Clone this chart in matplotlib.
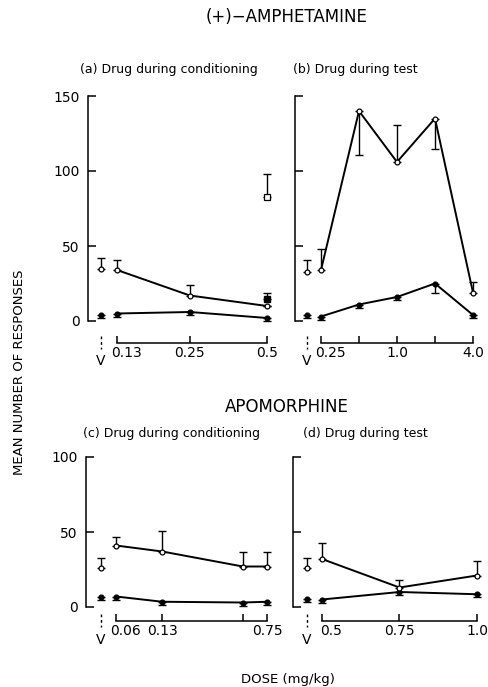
import numpy as np
import matplotlib
matplotlib.use('Agg')
import matplotlib.pyplot as plt
from matplotlib.transforms import blended_transform_factory, ScaledTranslation

# (a) amphetamine, drug during conditioning
a_dose = [0.13, 0.25, 0.5]
a_open = [34, 17, 10]
a_open_err = [7, 7, 0]
a_fill = [5, 6, 2]
a_fill_err = [2, 2, 2]
a_veh_open, a_veh_open_err = 35, 7
a_veh_fill, a_veh_fill_err = 4, 2
a_sq_open, a_sq_open_err = 83, 15
a_sq_fill, a_sq_fill_err = 15, 4
a_ticks = [0.13, 0.25, 0.5]
a_ticklabels = ['0.13', '0.25', '0.5']

# (b) amphetamine, drug during test
b_dose = [0.25, 0.5, 1.0, 2.0, 4.0]
b_open = [34, 140, 106, 135, 19]
b_open_lo = [0, 29, 0, 20, 0]
b_open_hi = [14, 0, 25, 0, 7]
b_fill = [3, 11, 16, 25, 4]
b_fill_err = [2, 2, 2, 6, 2]
b_veh_open, b_veh_open_err = 33, 8
b_veh_fill, b_veh_fill_err = 4, 2
b_ticks = [0.25, 0.5, 1.0, 2.0, 4.0]
b_ticklabels = ['0.25', '', '1.0', '', '4.0']

# (c) apomorphine, drug during conditioning
c_dose = [0.06, 0.13, 0.5, 0.75]
c_open = [41, 37, 27, 27]
c_open_err = [6, 14, 10, 10]
c_fill = [7, 3.5, 3, 3.5]
c_fill_err = [2, 2, 2, 2]
c_veh_open, c_veh_open_err = 26, 7
c_veh_fill, c_veh_fill_err = 6.5, 2
c_ticks = [0.06, 0.13, 0.5, 0.75]
c_ticklabels = ['0.06', '0.13', '', '0.75']

# (d) apomorphine, drug during test
d_dose = [0.5, 0.75, 1.0]
d_open = [32, 13, 21]
d_open_err = [11, 5, 10]
d_fill = [5, 10, 8.5]
d_fill_err = [2, 2, 2]
d_veh_open, d_veh_open_err = 26, 7
d_veh_fill, d_veh_fill_err = 5.5, 2
d_ticks = [0.5, 0.75, 1.0]
d_ticklabels = ['0.5', '0.75', '1.0']

W, H = 489, 687


def px(x, y):
    # pixel position -> figure fraction
    return x / W, 1 - y / H


def setup_axes(fig, ax, ymax, ticks, ticklabels, xlim, log, ylabels, out_pt):
    if log:
        ax.set_xscale('log')
    ax.set_xlim(xlim)
    ax.set_ylim(-4, ymax + 2)
    ax.spines['top'].set_visible(False)
    ax.spines['right'].set_visible(False)
    ax.spines['left'].set_bounds(0, ymax)
    ax.spines['bottom'].set_position(('outward', out_pt))
    ax.spines['bottom'].set_bounds(ticks[0], ticks[-1])
    for s in ['left', 'bottom']:
        ax.spines[s].set_linewidth(1.1)
    ax.set_yticks(np.arange(0, ymax + 1, 50))
    if not ylabels:
        ax.set_yticklabels([])
    ax.set_xticks(ticks)
    ax.set_xticklabels(ticklabels)
    ax.xaxis.set_minor_locator(matplotlib.ticker.NullLocator())
    ax.tick_params(axis='y', direction='in', length=6, width=1.1, pad=6, labelsize=10)
    ax.tick_params(axis='x', direction='in', length=5, width=1.1, pad=2, labelsize=10)
    # first dose label sits a bit right of its tick, clear of the vehicle arrow
    first = ax.get_xticklabels()[0]
    first.set_transform(first.get_transform() + ScaledTranslation(0.09, 0, fig.dpi_scale_trans))


def draw_series(ax, dose, vals, lo, hi, filled):
    ax.errorbar(dose, vals, yerr=[lo, hi], fmt='none', ecolor='black',
                elinewidth=1, capsize=3, capthick=1, zorder=2)
    ax.plot(dose, vals, color='black', lw=1.4, zorder=3)
    ax.plot(dose, vals, 'o', ms=3.5, mec='black', mew=0.9,
            mfc='black' if filled else 'white', zorder=4, clip_on=False)


def draw_vehicle(ax, fig, vx, vopen, vopen_err, vfill, vfill_err, dash_y, v_y):
    ax.errorbar([vx], [vopen], yerr=[[0], [vopen_err]], fmt='none', ecolor='black',
                elinewidth=1, capsize=3, capthick=1)
    ax.plot([vx], [vopen], 'o', ms=3.5, mec='black', mew=0.9, mfc='white', zorder=4)
    ax.errorbar([vx], [vfill], yerr=[[vfill_err], [0]], fmt='none', ecolor='black',
                elinewidth=1, capsize=3, capthick=1)
    ax.plot([vx], [vfill], 'o', ms=3.5, mec='black', mew=0.9, mfc='black', zorder=4,
            clip_on=False)
    tr = blended_transform_factory(ax.transData, fig.transFigure)
    ax.plot([vx, vx], [1 - dash_y[0] / H, 1 - dash_y[1] / H], color='black', lw=1,
            ls=(0, (2, 2)), transform=tr, clip_on=False)
    ax.text(vx, 1 - v_y / H, 'V', transform=tr, ha='center', va='center', fontsize=10)


def main():
    plt.rcParams['font.family'] = ['DejaVu Sans']
    fig = plt.figure(figsize=(W / 100, H / 100), dpi=100)

    top_b, top_h = (H - 327) / H, 234 / H
    bot_b, bot_h = (H - 613) / H, 159 / H
    ax_a = fig.add_axes([88 / W, top_b, (275 - 88) / W, top_h])
    ax_b = fig.add_axes([295 / W, top_b, (484 - 295) / W, top_h])
    ax_c = fig.add_axes([86 / W, bot_b, (275 - 86) / W, bot_h])
    ax_d = fig.add_axes([293 / W, bot_b, (484 - 293) / W, bot_h])

    # panel (a)
    setup_axes(fig, ax_a, 150, a_ticks, a_ticklabels, (0.1002, 0.537), True, True, 11.5)
    draw_series(ax_a, a_dose, a_fill, a_fill_err, [0] * 3, True)
    draw_series(ax_a, a_dose, a_open, [0] * 3, a_open_err, False)
    ax_a.errorbar([0.5], [a_sq_open], yerr=[[0], [a_sq_open_err]], fmt='none',
                  ecolor='black', elinewidth=1, capsize=3, capthick=1)
    ax_a.plot([0.5], [a_sq_open], 's', ms=4, mec='black', mew=0.9, mfc='white', zorder=5)
    ax_a.errorbar([0.5], [a_sq_fill], yerr=[[0], [a_sq_fill_err]], fmt='none',
                  ecolor='black', elinewidth=1, capsize=3, capthick=1)
    ax_a.plot([0.5], [a_sq_fill], 's', ms=5, mec='black', mfc='black', zorder=5)
    draw_vehicle(ax_a, fig, 0.1126, a_veh_open, a_veh_open_err, a_veh_fill,
                 a_veh_fill_err, (336, 349), 361)

    # panel (b)
    setup_axes(fig, ax_b, 150, b_ticks, b_ticklabels, (0.1556, 4.89), True, False, 11.5)
    draw_series(ax_b, b_dose, b_fill, b_fill_err, [0] * 5, True)
    draw_series(ax_b, b_dose, b_open, b_open_lo, b_open_hi, False)
    draw_vehicle(ax_b, fig, 0.1937, b_veh_open, b_veh_open_err, b_veh_fill,
                 b_veh_fill_err, (336, 349), 361)

    # panel (c)
    setup_axes(fig, ax_c, 100, c_ticks, c_ticklabels, (0.0363, 0.857), True, True, 5.8)
    draw_series(ax_c, c_dose, c_fill, c_fill_err, [0] * 4, True)
    draw_series(ax_c, c_dose, c_open, [0] * 4, c_open_err, False)
    draw_vehicle(ax_c, fig, 0.0467, c_veh_open, c_veh_open_err, c_veh_fill,
                 c_veh_fill_err, (614, 627), 640)

    # panel (d)
    setup_axes(fig, ax_d, 100, d_ticks, d_ticklabels, (0.4065, 1.0226), False, False, 5.8)
    draw_series(ax_d, d_dose, d_fill, d_fill_err, [0] * 3, True)
    draw_series(ax_d, d_dose, d_open, [0] * 3, d_open_err, False)
    draw_vehicle(ax_d, fig, 0.4516, d_veh_open, d_veh_open_err, d_veh_fill,
                 d_veh_fill_err, (614, 627), 640)

    # titles
    fig.text(*px(287, 17), '(+)\u2212AMPHETAMINE', ha='center', va='center', fontsize=12)
    fig.text(*px(80, 69), '(a) Drug during conditioning', ha='left', va='center', fontsize=9)
    fig.text(*px(293, 69), '(b) Drug during test', ha='left', va='center', fontsize=9)
    fig.text(*px(287, 407), 'APOMORPHINE', ha='center', va='center', fontsize=12)
    fig.text(*px(83, 433), '(c) Drug during conditioning', ha='left', va='center', fontsize=9)
    fig.text(*px(303, 433), '(d) Drug during test', ha='left', va='center', fontsize=9)
    fig.text(*px(20, 372), 'MEAN NUMBER OF RESPONSES', rotation=90, ha='center',
             va='center', fontsize=9.5)
    fig.text(*px(288, 679), 'DOSE (mg/kg)', ha='center', va='center', fontsize=9.5)

    fig.savefig('out.png', dpi=100)


if __name__ == '__main__':
    main()
